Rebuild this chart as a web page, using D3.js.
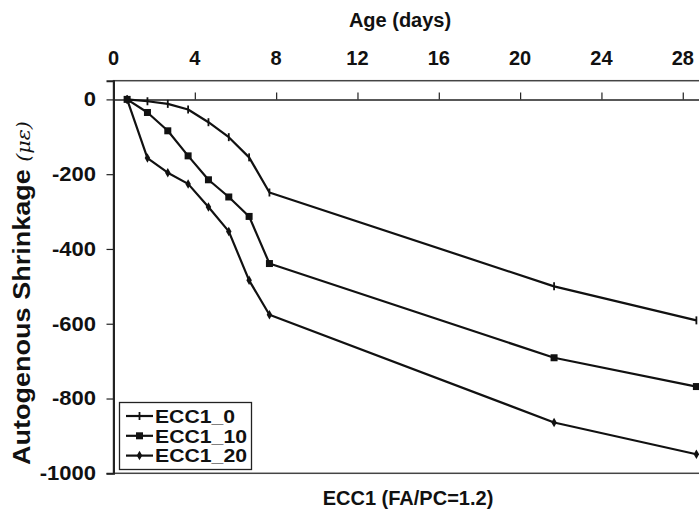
<!DOCTYPE html>
<html>
<head>
<meta charset="utf-8">
<script src="https://cdn.jsdelivr.net/npm/d3@7"></script>
<style>
  html, body { margin: 0; padding: 0; background: #fff; }
  svg { display: block; }
  text { font-family: "Liberation Sans", Arial, sans-serif; font-weight: bold; fill: #111; }
</style>
</head>
<body>
<svg id="chart" width="699" height="516"></svg>
<script>
// Age in days for each reading
const ages = [0.67, 1.67, 2.67, 3.67, 4.67, 5.67, 6.67, 7.67, 21.67, 28.67];
// Autogenous shrinkage (microstrain) per mix
const ecc1_0  = [0, -5, -12, -27, -61, -101, -155, -249, -500, -591];
const ecc1_10 = [0, -35, -84, -151, -215, -261, -313, -439, -691, -768];
const ecc1_20 = [0, -157, -196, -226, -288, -353, -484, -576, -864, -949];
const seriesNames = ["ECC1_0", "ECC1_10", "ECC1_20"];
const xTicks = [0, 4, 8, 12, 16, 20, 24, 28];
const yTicks = [0, -200, -400, -600, -800, -1000];

const svg = d3.select("#chart");
const plotLeft = 113.5, plotTop = 80.7, plotBottom = 473.3, plotRight = 703.1;

const x = d3.scaleLinear().domain([0, 29]).range([plotLeft, plotRight]);
const y = d3.scaleLinear().domain([-1000, 50]).range([plotBottom, plotTop]);

// plot frame
svg.append("rect")
  .attr("x", plotLeft).attr("y", plotTop)
  .attr("width", plotRight - plotLeft).attr("height", plotBottom - plotTop)
  .attr("fill", "none").attr("stroke", "#444").attr("stroke-width", 1.5);

// horizontal axis crossing at zero, ticks pointing up, labels along the top
const xAxis = svg.append("g").attr("transform", `translate(0,${y(0)})`)
  .call(d3.axisTop(x).tickValues(xTicks).tickSize(7).tickFormat(""));
xAxis.select(".domain").attr("stroke", "#222").attr("stroke-width", 1.5);
xAxis.selectAll(".tick line").attr("stroke", "#222").attr("stroke-width", 1.2);

svg.append("g").selectAll("text").data(xTicks).join("text")
  .attr("x", d => x(d)).attr("y", 65)
  .attr("text-anchor", "middle").attr("font-size", 20)
  .text(d => d);

// vertical axis
const yAxis = svg.append("g").attr("transform", `translate(${plotLeft},0)`)
  .call(d3.axisLeft(y).tickValues(yTicks).tickSize(7).tickPadding(9).tickFormat(d => String(d)));
yAxis.select(".domain").attr("stroke", "#222").attr("stroke-width", 2);
yAxis.selectAll(".tick line").attr("stroke", "#222").attr("stroke-width", 1.2);
yAxis.selectAll(".tick text")
  .attr("font-size", 20).attr("font-weight", "bold")
  .attr("font-family", "'Liberation Sans', Arial, sans-serif").attr("fill", "#111")
  .attr("transform", "translate(-44,0) scale(1.1,1) translate(40,0)");

// titles
svg.append("text").attr("x", 400).attr("y", 27)
  .attr("text-anchor", "middle").attr("font-size", 20).text("Age (days)");

svg.append("text").attr("x", 408).attr("y", 505)
  .attr("text-anchor", "middle").attr("font-size", 20).text("ECC1 (FA/PC=1.2)");

// vertical title, slightly stretched along its length
const yTitle = svg.append("text")
  .attr("transform", "translate(30,293) rotate(-90) scale(1.15,1)")
  .attr("text-anchor", "middle").attr("font-size", 23.5);
yTitle.append("tspan").text("Autogenous Shrinkage ");
yTitle.append("tspan").attr("font-weight", "normal").attr("font-family", "'DejaVu Serif', serif")
  .attr("font-style", "italic").attr("font-size", 18).text("(με)");

// series
const series = [
  { name: seriesNames[0], values: ecc1_0, marker: "tick" },
  { name: seriesNames[1], values: ecc1_10, marker: "square" },
  { name: seriesNames[2], values: ecc1_20, marker: "diamond" }
];

const line = d3.line().x(d => x(d[0])).y(d => y(d[1]));

function drawMarker(g, kind, cx, cy) {
  if (kind === "tick") {
    g.append("line").attr("x1", cx).attr("x2", cx).attr("y1", cy - 4).attr("y2", cy + 4)
      .attr("stroke", "#111").attr("stroke-width", 1.8);
  } else if (kind === "square") {
    g.append("rect").attr("x", cx - 3.5).attr("y", cy - 3.5).attr("width", 7).attr("height", 7)
      .attr("fill", "#111");
  } else {
    g.append("path").attr("d", d3.symbol().type(d3.symbolDiamond).size(26)())
      .attr("transform", `translate(${cx},${cy})`).attr("fill", "#111");
  }
}

const plot = svg.append("g");
series.forEach(s => {
  const pts = ages.map((a, i) => [a, s.values[i]]);
  plot.append("path").datum(pts).attr("d", line)
    .attr("fill", "none").attr("stroke", "#111").attr("stroke-width", 2.2)
    .attr("stroke-linejoin", "round");
  const mg = plot.append("g");
  pts.forEach(p => drawMarker(mg, s.marker, x(p[0]), y(p[1])));
});

// legend
const lg = svg.append("g");
lg.append("rect").attr("x", 119.5).attr("y", 402.5).attr("width", 132).attr("height", 67)
  .attr("fill", "#fff").attr("stroke", "#222").attr("stroke-width", 1.3);
series.forEach((s, i) => {
  const ly = 416 + i * 19.8;
  lg.append("line").attr("x1", 126).attr("x2", 153).attr("y1", ly).attr("y2", ly)
    .attr("stroke", "#111").attr("stroke-width", 2.2);
  drawMarker(lg, s.marker, 139.5, ly);
  lg.append("text").attr("x", 155).attr("y", ly + 6.8).attr("font-size", 19)
    .attr("textLength", i === 0 ? 80 : 92).attr("lengthAdjust", "spacingAndGlyphs")
    .text(s.name);
});
</script>
</body>
</html>
